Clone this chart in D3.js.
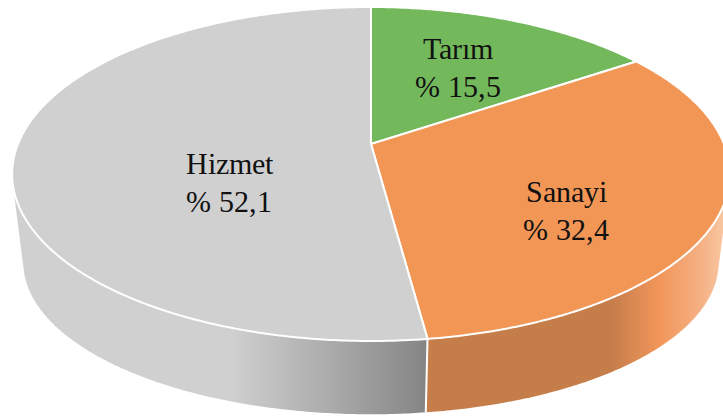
<!DOCTYPE html>
<html><head><meta charset="utf-8">
<script src="https://cdn.jsdelivr.net/npm/d3@7"></script>
<style>
@font-face{font-family:"LabelSerif";src:local("Liberation Serif"),local("LiberationSerif"),local("LiberationSerif-Regular"),local("Tinos"),local("DejaVu Serif");}
</style>
</head><body style="margin:0">
<svg id="c" width="723" height="419" style="font-family:'LabelSerif','Liberation Serif','Tinos','FreeSerif','DejaVu Serif',serif"></svg>
<script>
const categories = ["Tarım", "Sanayi", "Hizmet"];
const values = [15.5, 32.4, 52.1];
const valueLabels = ["% 15,5", "% 32,4", "% 52,1"];
const topColors = ["#73b95b", "#f29656", "#d0d0d0"];

const svg = d3.select("#c");
const pie = d3.pie().sort(null).value(d => d);
const arcs = pie(values);

// perspective-like projection of the disc (top face and bottom face)
const faces = {
  top: { B: 0.1796,
         x: d3.scaleLinear().domain([-1, 1]).range([371 - 353, 371 + 353]),
         y: d3.scaleLinear().domain([-1, 1]).range([144 - 161.6, 144 + 161.6]) },
  bot: { B: 0.18,
         x: d3.scaleLinear().domain([-1, 1]).range([371 - 342, 371 + 342]),
         y: d3.scaleLinear().domain([-1, 1]).range([235 - 147, 235 + 147]) }
};
function proj(a, r, f) {
  const F = faces[f];
  const u = r * Math.sin(a), v = -r * Math.cos(a);
  const den = 1 - F.B * v;
  return [F.x(u / den), F.y(v / den)];
}
function arcPts(a0, a1, f) {
  const n = Math.max(2, Math.ceil((a1 - a0) / (Math.PI / 360)));
  return d3.range(n + 1).map(i => proj(a0 + (a1 - a0) * i / n, 1, f));
}

// gradients for the side walls
const defs = svg.append("defs");
const sideStops = [
  [[0, "#d0d0d0"], [230, "#d0d0d0"], [330, "#ababab"], [426, "#858585"]],
  [[426, "#c57d4a"], [612, "#c57d4a"], [636, "#dc8a53"], [660, "#f2965a"], [700, "#f5b083"], [723, "#f8c6a0"]]
];
sideStops.forEach((stops, i) => {
  const g = defs.append("linearGradient").attr("id", "side" + i)
    .attr("gradientUnits", "userSpaceOnUse")
    .attr("x1", 0).attr("x2", 723).attr("y1", 0).attr("y2", 0);
  stops.forEach(s => g.append("stop").attr("offset", s[0] / 723).attr("stop-color", s[1]));
});

// side walls
const sideG = svg.append("g");
arcs.forEach((d, i) => {
  const top = arcPts(d.startAngle, d.endAngle, "top");
  const bot = arcPts(d.startAngle, d.endAngle, "bot");
  let path = "";
  for (let k = 0; k < top.length - 1; k++) {
    let q = [top[k], top[k + 1], bot[k + 1], bot[k]];
    if (d3.polygonArea(q) < 0) q = q.reverse();
    path += "M" + q.map(p => p.join(",")).join("L") + "Z";
  }
  sideG.append("path").attr("d", path)
    .attr("fill", i === 2 ? "url(#side0)" : (i === 1 ? "url(#side1)" : "#5e9a48"));
});
// white seam between side walls
arcs.forEach(d => {
  const a = d.startAngle;
  const p0 = proj(a, 1, "top"), p1 = proj(a, 1, "bot");
  if (-Math.cos(a) > 0.3) {
    sideG.append("line").attr("x1", p0[0]).attr("y1", p0[1]).attr("x2", p1[0]).attr("y2", p1[1])
      .attr("stroke", "#fff").attr("stroke-width", 2);
  }
});

// top faces
const topG = svg.append("g");
const centroids = [];
arcs.forEach((d, i) => {
  const pts = [proj(0, 0, "top")].concat(arcPts(d.startAngle, d.endAngle, "top"));
  centroids.push(d3.polygonCentroid(pts));
  topG.append("path").attr("d", "M" + pts.map(p => p.join(",")).join("L") + "Z")
    .attr("fill", topColors[i]).attr("stroke", "#fff").attr("stroke-width", 2)
    .attr("stroke-linejoin", "round");
});

// labels (placed at the projected slice centroid, slightly nudged like the original)
const nudge = [[-8, 1], [14, 10], [1, 2]];
const lblData = [];
arcs.forEach((d, i) => {
  const c = [centroids[i][0] + nudge[i][0], centroids[i][1] + nudge[i][1]];
  lblData.push({ t: categories[i], x: c[0], y: c[1] - 7.5 });
  lblData.push({ t: valueLabels[i], x: c[0], y: c[1] + 30.5 });
});
svg.selectAll("text.lbl").data(lblData).join("text")
  .attr("class", "lbl")
  .attr("x", d => d.x).attr("y", d => d.y)
  .attr("text-anchor", "middle")
  .attr("font-family", "LabelSerif, Liberation Serif, Tinos, FreeSerif, DejaVu Serif, serif")
  .style("font-family", "'LabelSerif', 'Liberation Serif', 'Tinos', 'FreeSerif', 'DejaVu Serif', serif")
  .style("font-size", "30px")
  .style("fill", "#111")
  .text(d => d.t);
</script>
</body></html>
